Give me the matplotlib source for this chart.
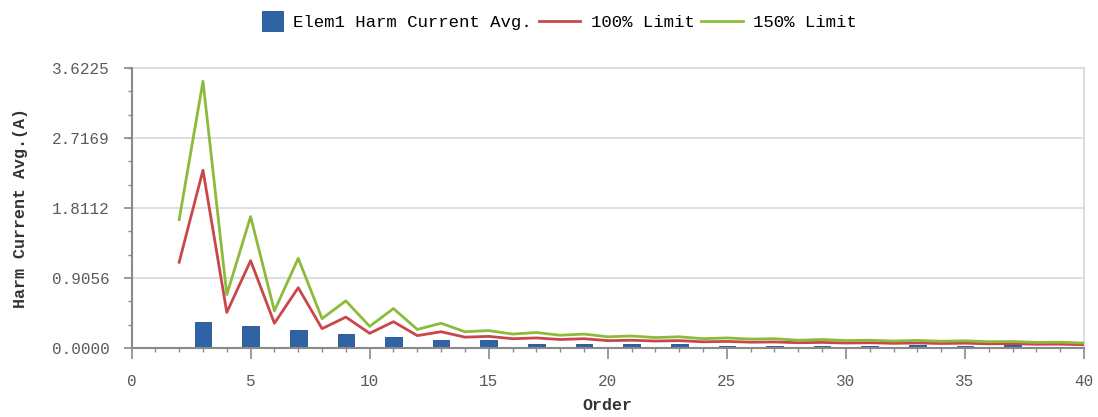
"""
Harmonic current spectrum with 100% / 150% limit curves.
"""
import numpy as np
import matplotlib
matplotlib.use('Agg')
import matplotlib.pyplot as plt
from matplotlib.patches import Rectangle
from matplotlib.legend_handler import HandlerPatch
from matplotlib.ticker import MultipleLocator, FixedLocator

# Harmonic orders 2..40
orders = list(range(2, 41))

# Measured average harmonic current (A), one bar per order
harm_current = [
    0.010, 0.335, 0.010, 0.288, 0.010, 0.235, 0.010, 0.186, 0.010, 0.142,
    0.010, 0.105, 0.008, 0.105, 0.008, 0.057, 0.008, 0.055, 0.008, 0.057,
    0.008, 0.057, 0.008, 0.030, 0.008, 0.032, 0.008, 0.030, 0.008, 0.032,
    0.008, 0.036, 0.008, 0.032, 0.008, 0.034, 0.008, 0.018, 0.008,
]

# 100% limit curve (A)
limit_100 = [
    1.11, 2.30, 0.46, 1.13, 0.32, 0.78, 0.25, 0.40, 0.19, 0.34,
    0.16, 0.21, 0.14, 0.15, 0.12, 0.13, 0.11, 0.12, 0.095, 0.10,
    0.09, 0.095, 0.08, 0.085, 0.075, 0.078, 0.068, 0.072, 0.064, 0.068,
    0.060, 0.065, 0.058, 0.062, 0.054, 0.056, 0.048, 0.050, 0.042,
]

# 150% limit curve (A)
limit_150 = [
    1.66, 3.45, 0.69, 1.70, 0.48, 1.16, 0.38, 0.61, 0.28, 0.51,
    0.24, 0.32, 0.21, 0.225, 0.18, 0.20, 0.165, 0.18, 0.145, 0.155,
    0.135, 0.145, 0.12, 0.13, 0.115, 0.12, 0.10, 0.11, 0.096, 0.10,
    0.090, 0.098, 0.087, 0.093, 0.081, 0.084, 0.072, 0.075, 0.063,
]

y_ticks = [0.0, 0.9056, 1.8112, 2.7169, 3.6225]
x_max = 40

FONT = ['Liberation Mono', 'DejaVu Sans Mono']
BAR_COLOR = '#2E63A6'
BAR_EDGE = '#244f88'
RED = '#C9474B'
GREEN = '#8CBB3C'


def square_patch(legend, orig_handle, xdescent, ydescent, width, height, fontsize):
    """Square legend key aligned to the right of the handle box."""
    side = height * 1.65
    return Rectangle((width - side - xdescent, -ydescent - (side - height) / 2),
                     side, side)


fig = plt.figure(figsize=(10.98, 4.17), dpi=100)
ax = fig.add_axes([0.1198, 0.1655, 0.9873 - 0.1198, 0.837 - 0.1655])

ax.bar(orders, harm_current, width=0.7, color=BAR_COLOR,
       edgecolor=BAR_EDGE, linewidth=0.6, zorder=3)
line100, = ax.plot(orders, limit_100, color=RED, linewidth=2.0, zorder=4)
line150, = ax.plot(orders, limit_150, color=GREEN, linewidth=2.0, zorder=4)

ax.set_xlim(0, x_max)
ax.set_ylim(y_ticks[0], y_ticks[-1])

ax.xaxis.set_major_locator(MultipleLocator(5))
ax.xaxis.set_minor_locator(MultipleLocator(1))
ax.yaxis.set_major_locator(FixedLocator(y_ticks))
ax.yaxis.set_minor_locator(FixedLocator(list(np.arange(0, y_ticks[-1], y_ticks[1] / 3))))
ax.set_yticklabels([f'{v:.4f}' for v in y_ticks])

ax.grid(True, which='major', axis='y', color='#dcdcdc', linewidth=1.3, zorder=0)

for side in ('left', 'bottom'):
    ax.spines[side].set_color('#8a8a8a')
    ax.spines[side].set_linewidth(1.5)
    ax.spines[side].set_zorder(5)
for side in ('top', 'right'):
    ax.spines[side].set_color('#d8d8d8')
    ax.spines[side].set_linewidth(1.2)

ax.tick_params(axis='x', which='major', direction='out', length=8, width=1.2,
               color='#8a8a8a', pad=11, labelsize=11.5, labelcolor='#5a5a5a')
ax.tick_params(axis='x', which='minor', direction='out', length=3, width=1.0, color='#8a8a8a')
ax.tick_params(axis='y', which='major', direction='out', length=6, width=1.2,
               color='#8a8a8a', pad=10, labelsize=11.5, labelcolor='#5a5a5a')
ax.tick_params(axis='y', which='minor', direction='out', length=3, width=1.0, color='#8a8a8a')
for lbl in ax.get_xticklabels() + ax.get_yticklabels():
    lbl.set_fontfamily(FONT)

ax.set_xlabel('Order', fontfamily=FONT, fontsize=12, fontweight='bold',
              color='#333333', labelpad=6)
ax.set_ylabel('Harm Current Avg.(A)', fontfamily=FONT, fontsize=12, fontweight='bold',
              color='#333333', labelpad=17)

# Legend: square key for the bars, short line keys for the limits
bar_key = Rectangle((0, 0), 1, 1, facecolor=BAR_COLOR, edgecolor=BAR_EDGE, linewidth=0.6)
fig.legend([bar_key, line100, line150],
           ['Elem1 Harm Current Avg.', '100% Limit', '150% Limit'],
           loc='center', bbox_to_anchor=(0.5, 0.947), ncol=3, frameon=False,
           prop={'family': FONT, 'size': 12.5}, handlelength=2.4,
           handletextpad=0.6, columnspacing=0.4,
           handler_map={Rectangle: HandlerPatch(patch_func=square_patch)})

fig.savefig('out.png', dpi=100)
plt.close(fig)
